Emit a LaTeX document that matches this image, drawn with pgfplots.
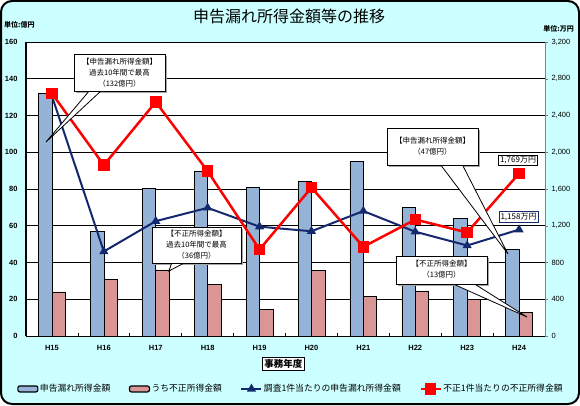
\documentclass[border=0pt]{standalone}
\usepackage{pgfplots}
\pgfplotsset{compat=1.18}
\usepackage{fontspec}
\setmainfont{Liberation Sans}
\newfontfamily\jp{Noto Sans CJK JP}
\definecolor{bg}{HTML}{CCFFFF}
\definecolor{barblue}{HTML}{95B3D7}
\definecolor{barpink}{HTML}{D99694}
\definecolor{navy}{HTML}{14286E}
\pgfplotsset{
  lineleg/.style={legend image code/.code={\draw[mark repeat=2, mark phase=2, ##1] plot coordinates {(0pt,0pt)(10pt,0pt)(20pt,0pt)};}},
  barleg/.style={legend image code/.code={\draw[fill=#1, draw=black, line width=1.2pt, rounded corners=2pt] (0pt,-3pt) rectangle (20pt,3pt);}},
}
\begin{document}
\begin{tikzpicture}[x=1pt,y=1pt]
\fill[bg, draw=black, line width=2pt, rounded corners=11pt] (1,1) rectangle (579,404);
\node[font=\jp\fontsize{16}{18}\selectfont] at (289,389) {申告漏れ所得金額等の推移};
\node[font=\jp\bfseries\fontsize{7}{8}\selectfont, anchor=west, inner sep=0pt] at (4,380) {単位:億円};
\node[font=\jp\bfseries\fontsize{7}{8}\selectfont, anchor=east, inner sep=0pt] at (574,376) {単位:万円};

\begin{axis}[at={(26pt,69pt)}, anchor=south west, width=519pt, height=294pt, scale only axis,
  xmin=-0.5, xmax=9.5, ymin=0, ymax=160, ytick={0,20,...,160},
  axis x line*=bottom, axis y line*=left,
  x axis line style={black, line width=1pt},
  y axis line style={black, line width=2pt},
  ymajorgrids, grid style={black, line width=0.7pt},
  axis background/.style={fill=white},
  xtick={0,...,9}, xticklabels={H15,H16,H17,H18,H19,H20,H21,H22,H23,H24},
  minor xtick={0.5,1.5,2.5,3.5,4.5,5.5,6.5,7.5,8.5},
  major tick length=0pt, minor tick length=3pt, tick align=inside,
  minor tick style={black, line width=0.8pt},
  /pgf/number format/assume math mode=true,
  xticklabel style={font=\bfseries\fontsize{7.5}{9}\selectfont, yshift=-6pt},
  yticklabel style={font=\bfseries\fontsize{7.5}{9}\selectfont, xshift=-5pt},
  xlabel={\jp\bfseries 事務年度},
  xlabel style={at={(axis description cs:0.496,-0.095)}, anchor=center, draw=black, fill=white, line width=1.2pt, inner sep=2pt, font=\fontsize{9.5}{10}\selectfont},
]
\addplot[ybar, bar width=13.4pt, bar shift=-6.7pt, fill=barblue, draw=black, line width=0.7pt]
  coordinates {(0,132)(1,57)(2,80.5)(3,89.5)(4,81)(5,84)(6,95)(7,70)(8,64)(9,47)};
\addplot[ybar, bar width=13.4pt, bar shift=6.7pt, fill=barpink, draw=black, line width=0.7pt]
  coordinates {(0,24)(1,31)(2,36)(3,28)(4,14.5)(5,35.5)(6,21.5)(7,24.5)(8,20)(9,13)};
\end{axis}

\begin{axis}[at={(26pt,69pt)}, anchor=south west, width=519pt, height=294pt, scale only axis,
  xmin=-0.5, xmax=9.5, ymin=0, ymax=3200, ytick={0,400,...,3200},
  axis x line=none, axis y line*=right,
  y axis line style={gray, line width=0.8pt},
  scaled y ticks=false,
  major tick length=3pt, tick align=outside, major tick style={gray},
  /pgf/number format/assume math mode=true,
  yticklabel style={font=\fontsize{7.5}{9}\selectfont, /pgf/number format/1000 sep={,}},
  legend columns=4,
  legend style={at={(0.51,-0.18)}, anchor=center, draw=none, fill=none,
    font=\jp\fontsize{8.8}{10}\selectfont, inner sep=0pt, nodes={inner sep=1.5pt},
    /tikz/every even column/.append style={column sep=17pt}},
  legend cell align=left,
]
\addlegendimage{barleg=barblue}
\addlegendentry{申告漏れ所得金額}
\addlegendimage{barleg=barpink}
\addlegendentry{うち不正所得金額}
\addplot[navy, line width=2pt, mark=triangle*, mark size=3.3pt, lineleg]
  coordinates {(0,2610)(1,920)(2,1250)(3,1395)(4,1190)(5,1140)(6,1360)(7,1135)(8,985)(9,1158)};
\addlegendentry{調査1件当たりの申告漏れ所得金額}
\addplot[red, line width=2.5pt, mark=square*, mark size=4.5pt, lineleg]
  coordinates {(0,2640)(1,1860)(2,2547)(3,1794)(4,942)(5,1616)(6,971)(7,1268)(8,1127)(9,1769)};
\addlegendentry{不正1件当たりの不正所得金額}
\end{axis}

% callouts
\tikzset{cbox/.style={fill=white, draw=black, line width=0.8pt}, ctext/.style={font=\jp\fontsize{7.5}{11}\selectfont, align=center}}
\fill[gray!70] (76,312) rectangle (167,349);
\filldraw[cbox] (90,315) -- (46,263) -- (102,315) -- cycle;
\filldraw[cbox] (74,314) rectangle (165,351);
\node[ctext] at (119.5,332.5) {【申告漏れ所得金額】\\過去10年間で最高\\（132億円）};

\fill[gray!70] (154,140) rectangle (243,176);
\filldraw[cbox] (172,143) -- (169,134) -- (186,143) -- cycle;
\filldraw[cbox] (152,142) rectangle (241,178);
\node[ctext] at (196.5,160) {【不正所得金額】\\過去10年間で最高\\（36億円）};

\fill[gray!70] (389,238) rectangle (480,275);
\filldraw[cbox] (440,241) -- (508,151) -- (462,241) -- cycle;
\filldraw[cbox] (387,240) rectangle (478,277);
\node[ctext] at (432.5,259) {【申告漏れ所得金額】\\（47億円）};

\fill[gray!70] (398,119) rectangle (489,147);
\filldraw[cbox] (451,122) -- (527,88) -- (473,122) -- cycle;
\filldraw[cbox] (396,121) rectangle (487,149);
\node[ctext] at (441.5,135.5) {【不正所得金額】\\（13億円）};

\node[draw=black, line width=1.3pt, fill=white, inner sep=1.5pt, font=\jp\fontsize{8}{9}\selectfont] at (518,244.5) {1,769万円};
\node[draw=navy, line width=1pt, fill=white, inner sep=1.5pt, font=\jp\fontsize{8}{9}\selectfont] at (518.5,188) {1,158万円};
\end{tikzpicture}
\end{document}
